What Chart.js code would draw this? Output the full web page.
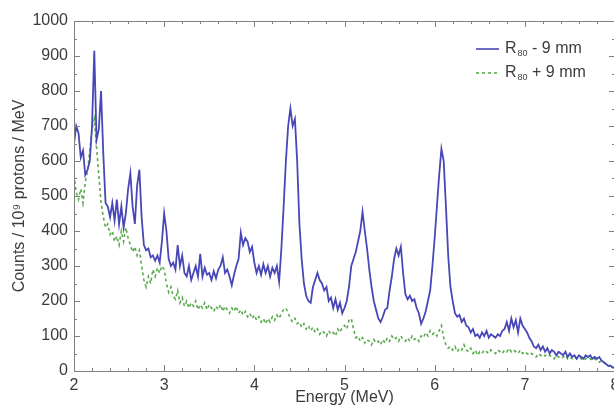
<!DOCTYPE html>
<html>
<head>
<meta charset="utf-8">
<script src="https://cdn.jsdelivr.net/npm/chart.js"></script>
<style>
  html, body { margin: 0; padding: 0; background: #fff; overflow: hidden; }
  #wrap { width: 630px; height: 407px; }
</style>
</head>
<body>
<div id="wrap"><canvas id="spectrumChart"></canvas></div>
<script>
// Energy grid (MeV) and counts, one value every 0.025 MeV
const energyStart = 2;
const energyStep = 0.025;

const minusCounts = [
  650, 700, 680, 610, 630, 560, 575, 600, 700, 915,
  660, 690, 800, 620, 480, 470, 440, 480, 430, 490,
  420, 470, 410, 450, 520, 565, 470, 420, 530, 575,
  440, 360, 345, 350, 325, 330, 315, 330, 310, 370,
  450, 400, 320, 300, 310, 290, 360, 300, 330, 280,
  270, 300, 260, 280, 300, 270, 335, 270, 295, 275,
  280, 260, 285, 265, 290, 300, 325, 280, 290, 270,
  245, 275, 300, 320, 395, 360, 380, 370, 340, 355,
  310, 280, 300, 275, 305, 280, 300, 270, 295, 280,
  300, 255, 350, 470, 600, 700, 750, 700, 720, 600,
  420, 320, 250, 215, 200, 195, 240, 260, 280, 260,
  250, 230, 240, 200, 210, 180, 205, 175, 195, 165,
  180, 200, 240, 300, 320, 340, 370, 400, 455, 400,
  350, 290, 240, 200, 175, 150, 140, 155, 175, 180,
  230, 270, 320, 350, 330, 355, 280, 220, 205, 215,
  200, 205, 180, 165, 135, 150, 170, 200, 230, 300,
  380, 470, 560, 635, 600, 470, 330, 240, 200, 165,
  155, 160, 140, 150, 130, 125, 110, 120, 100, 105,
  95, 110, 100, 115, 95, 105, 100, 95, 105, 100,
  115, 120, 140, 115, 150, 125, 145, 110, 150, 130,
  120, 110, 95, 85, 70, 65, 75, 60, 70, 55,
  65, 50, 60, 55, 45, 55, 50, 45, 55, 40,
  50, 40, 45, 35, 45, 40, 35, 45, 40, 45,
  35, 40, 35, 40, 30, 25, 20, 15, 15, 10,
  10
];

const plusCounts = [
  560, 510, 490, 520, 480, 540, 570, 630, 690, 720,
  640, 560, 480, 440, 410, 420, 390, 400, 370, 385,
  360, 400, 370, 410, 380, 360, 340, 355, 330, 345,
  300, 260, 240, 270, 250, 290, 270, 295, 280, 300,
  290, 250, 225, 240, 215, 205, 230, 195, 210, 185,
  200, 180, 195, 185, 200, 175, 190, 180, 195, 175,
  190, 180, 170, 185, 175, 190, 170, 185, 175, 165,
  180, 170, 185, 165, 175, 160, 170, 155, 165, 150,
  160, 145, 155, 140, 150, 135, 150, 140, 155, 145,
  160, 150, 165, 175, 180, 165, 150, 140, 150, 135,
  140, 125, 135, 120, 130, 115, 125, 110, 120, 105,
  115, 110, 100, 115, 105, 110, 100, 120, 110, 125,
  130, 120, 145, 150, 120, 95, 100, 85, 95, 80,
  90, 85, 75, 90, 80, 85, 75, 90, 80, 95,
  85, 100, 90, 95, 85, 100, 90, 85, 95, 85,
  100, 90, 95, 85, 100, 95, 110, 100, 115, 105,
  110, 100, 115, 130, 95, 75, 65, 70, 60, 70,
  55, 65, 60, 75, 60, 55, 65, 50, 60, 45,
  55, 50, 60, 55, 50, 60, 55, 50, 60, 55,
  50, 60, 55, 65, 55, 60, 55, 50, 60, 50,
  55, 50, 45, 50, 45, 40, 50, 45, 40, 45,
  40, 45, 40, 35, 45, 40, 35, 40, 45, 35,
  40, 35, 40, 35, 40, 35, 30, 35, 40, 35,
  30, 35, 30, 25, 30, 25, 20, 15, 15, 10,
  10
];

const xTickValues = [2, 3, 4, 5, 6, 7, 8];
const yTickValues = [0, 100, 200, 300, 400, 500, 600, 700, 800, 900, 1000];

const energies = minusCounts.map((_, i) => +(energyStart + i * energyStep).toFixed(3));

const FONT = '"Liberation Sans", Arial, Helvetica, sans-serif';
const TEXT = '#3c3c3c';
const BLUE = '#4747b8';
const GREEN = '#5aab4e';

// Box round the plot with inward major/minor ticks on all four sides
const frameTicks = {
  id: 'frameTicks',
  afterDatasetsDraw(chart) {
    const { ctx, chartArea: a, scales: { x, y } } = chart;
    ctx.save();
    ctx.strokeStyle = '#808080';
    ctx.lineWidth = 1;
    ctx.strokeRect(a.left + 0.5, a.top + 0.5, a.right - a.left, a.bottom - a.top);
    ctx.beginPath();
    for (let k = 0; k <= 30; k++) {
      const px = Math.round(x.getPixelForValue(2 + k * 0.2)) + 0.5;
      const len = k % 5 === 0 ? 6 : 3;
      ctx.moveTo(px, a.bottom); ctx.lineTo(px, a.bottom - len);
      ctx.moveTo(px, a.top); ctx.lineTo(px, a.top + len);
    }
    for (let k = 0; k <= 20; k++) {
      const py = Math.round(y.getPixelForValue(k * 50)) + 0.5;
      const len = k % 2 === 0 ? 6 : 3;
      ctx.moveTo(a.left, py); ctx.lineTo(a.left + len, py);
      ctx.moveTo(a.right, py); ctx.lineTo(a.right - len, py);
    }
    ctx.stroke();
    ctx.restore();
  }
};

// Legend in the top right corner, with the subscript of R80
const cornerLegend = {
  id: 'cornerLegend',
  afterDraw(chart) {
    const { ctx } = chart;
    ctx.save();
    chart.data.datasets.forEach((ds, i) => {
      const yy = 49 + i * 24;
      ctx.strokeStyle = ds.borderColor;
      ctx.lineWidth = 1.6;
      ctx.setLineDash(ds.borderDash || []);
      ctx.beginPath();
      ctx.moveTo(476, yy); ctx.lineTo(499, yy);
      ctx.stroke();
      ctx.setLineDash([]);
      ctx.fillStyle = TEXT;
      ctx.textBaseline = 'middle';
      ctx.font = '16px ' + FONT;
      ctx.fillText('R', 505, yy);
      let xx = 505 + ctx.measureText('R').width + 1;
      ctx.font = '9px ' + FONT;
      ctx.fillText('80', xx, yy + 5);
      xx += ctx.measureText('80').width;
      ctx.font = '16px ' + FONT;
      ctx.fillText(ds.label.replace('R80', ''), xx, yy);
    });
    ctx.restore();
  }
};

new Chart(document.getElementById('spectrumChart'), {
  type: 'line',
  data: {
    datasets: [
      {
        label: 'R80 - 9 mm',
        data: energies.map((e, i) => ({ x: e, y: minusCounts[i] })),
        borderColor: BLUE,
        borderWidth: 1.8,
        pointRadius: 0,
        tension: 0
      },
      {
        label: 'R80 + 9 mm',
        data: energies.map((e, i) => ({ x: e, y: plusCounts[i] })),
        borderColor: GREEN,
        borderWidth: 1.6,
        borderDash: [3, 3],
        pointRadius: 0,
        tension: 0
      }
    ]
  },
  options: {
    responsive: true,
    maintainAspectRatio: false,
    animation: false,
    layout: { padding: { top: 21, right: 15, left: 0, bottom: 0 } },
    plugins: { legend: { display: false }, tooltip: { enabled: false } },
    scales: {
      x: {
        type: 'linear',
        min: 2,
        max: 8,
        afterBuildTicks: s => { s.ticks = xTickValues.map(v => ({ value: v })); },
        afterFit: s => { s.height = 36; },
        grid: { display: false, drawTicks: false },
        border: { display: false },
        ticks: { padding: 5, color: TEXT, font: { family: FONT, size: 16 }, callback: v => String(v) },
        title: {
          display: true,
          text: 'Energy (MeV)',
          color: TEXT,
          font: { family: FONT, size: 16 },
          padding: { top: 0, bottom: 0 }
        }
      },
      y: {
        min: 0,
        max: 1000,
        afterBuildTicks: s => { s.ticks = yTickValues.map(v => ({ value: v })); },
        afterFit: s => { s.width = 74; },
        grid: { display: false, drawTicks: false },
        border: { display: false },
        ticks: { padding: 6, color: TEXT, font: { family: FONT, size: 16 }, callback: v => String(v) },
        title: {
          display: true,
          text: 'Counts / 10⁹ protons / MeV',
          color: TEXT,
          font: { family: FONT, size: 16 },
          padding: { top: 10, bottom: 0 }
        }
      }
    }
  },
  plugins: [frameTicks, cornerLegend]
});
</script>
</body>
</html>
